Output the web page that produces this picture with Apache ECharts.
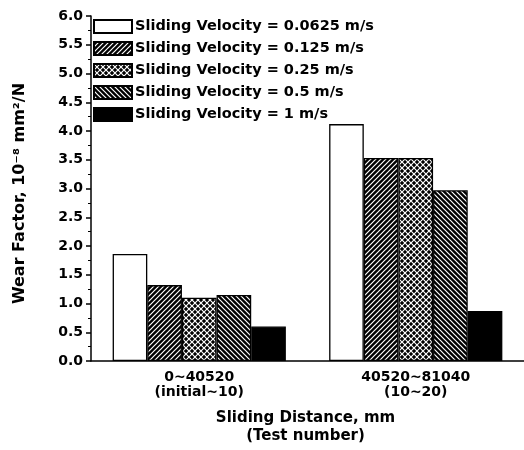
<!DOCTYPE html>
<html lang="en">
<head>
    <meta charset="UTF-8">
    <title>Wear Factor vs Sliding Distance</title>
    <script src="https://cdn.jsdelivr.net/npm/echarts@6.0.0/dist/echarts.min.js"></script>
    <style>
        body { margin: 0; background: #fff; }
    </style>
</head>
<body>
    <div id="main" style="width: 524px; height: 450px;"></div>
    <script type="text/javascript">
    // data
    const categories = ['0~40520\n(initial~10)', '40520~81040\n(10~20)'];
    const velocities = ['0.0625', '0.125', '0.25', '0.5', '1'];
    const v00625 = [1.86, 4.12];
    const v0125 = [1.32, 3.53];
    const v025 = [1.10, 3.53];
    const v05 = [1.15, 2.97];
    const v1 = [0.60, 0.87];
    const yTicks = [0, 6, 0.5];

    const FONT = '"DejaVu Sans", sans-serif';

    // small canvas tiles for the hatch fills
    function tile(size, draw) {
        const c = document.createElement('canvas');
        c.width = size; c.height = size;
        const ctx = c.getContext('2d');
        draw(ctx, size);
        return { image: c, repeat: 'repeat' };
    }

    const hatchFwd = tile(5, (ctx, s) => {
        ctx.fillStyle = '#000';
        ctx.fillRect(0, 0, s, s);
        ctx.strokeStyle = '#fff';
        ctx.lineWidth = 1.2;
        ctx.beginPath();
        ctx.moveTo(-1, s + 1); ctx.lineTo(s + 1, -1);
        ctx.moveTo(-1, 1); ctx.lineTo(1, -1);
        ctx.moveTo(s - 1, s + 1); ctx.lineTo(s + 1, s - 1);
        ctx.stroke();
    });

    const hatchBack = tile(5, (ctx, s) => {
        ctx.fillStyle = '#000';
        ctx.fillRect(0, 0, s, s);
        ctx.strokeStyle = '#fff';
        ctx.lineWidth = 1.2;
        ctx.beginPath();
        ctx.moveTo(-1, -1); ctx.lineTo(s + 1, s + 1);
        ctx.moveTo(s - 1, -1); ctx.lineTo(s + 1, 1);
        ctx.moveTo(-1, s - 1); ctx.lineTo(1, s + 1);
        ctx.stroke();
    });

    // black diamonds inside a white diagonal mesh
    const crossHatch = tile(6, (ctx, s) => {
        ctx.fillStyle = '#000';
        ctx.fillRect(0, 0, s, s);
        ctx.strokeStyle = '#fff';
        ctx.lineWidth = 1.2;
        ctx.beginPath();
        ctx.moveTo(-1, -1); ctx.lineTo(s + 1, s + 1);
        ctx.moveTo(-1, s + 1); ctx.lineTo(s + 1, -1);
        ctx.stroke();
    });

    const fills = ['#fff', hatchFwd, crossHatch, hatchBack, '#000'];
    const values = [v00625, v0125, v025, v05, v1];

    const chart = echarts.init(document.getElementById('main'));

    const series = velocities.map((v, i) => ({
        name: 'Sliding Velocity = ' + v + ' m/s',
        type: 'bar',
        data: values[i],
        barGap: 0,
        barCategoryGap: '20%',
        itemStyle: {
            color: fills[i],
            borderColor: '#000',
            borderWidth: 1.3
        },
        emphasis: { disabled: true }
    }));

    chart.setOption({
        animation: false,
        grid: { left: 91, right: -3, top: 16, bottom: 88 },
        legend: {
            orient: 'vertical',
            left: 93,
            top: 19,
            padding: 0,
            itemWidth: 38,
            itemHeight: 13,
            itemGap: 7,
            icon: 'rect',
            textStyle: { fontFamily: FONT, fontWeight: 'bold', fontSize: 14.5, color: '#000', padding: [0, 0, 0, -2] },
            data: series.map(s => s.name)
        },
        xAxis: {
            type: 'category',
            data: categories,
            name: 'Sliding Distance, mm\n(Test number)',
            nameLocation: 'middle',
            nameGap: 48,
            nameTextStyle: { fontFamily: FONT, fontWeight: 'bold', fontSize: 15, color: '#000', lineHeight: 18, padding: [0, 0, 0, -4] },
            axisLine: { lineStyle: { color: '#000', width: 1.5 } },
            axisTick: { alignWithLabel: true, length: 5, lineStyle: { color: '#000', width: 1.5 } },
            axisLabel: { fontFamily: FONT, fontWeight: 'bold', fontSize: 14, color: '#000', lineHeight: 15, margin: 9 },
            splitLine: { show: false }
        },
        yAxis: {
            type: 'value',
            min: yTicks[0],
            max: yTicks[1],
            interval: yTicks[2],
            name: 'Wear Factor, 10\u207B\u2078 mm\u00B2/N',
            nameLocation: 'middle',
            nameGap: 63,
            nameTextStyle: { fontFamily: FONT, fontWeight: 'bold', fontSize: 16, color: '#000', padding: [0, 0, 0, -10] },
            axisLine: { show: true, lineStyle: { color: '#000', width: 1.5 } },
            axisTick: { show: true, length: 5, lineStyle: { color: '#000', width: 1.5 } },
            minorTick: { show: true, splitNumber: 2, length: 3, lineStyle: { color: '#000', width: 1 } },
            axisLabel: {
                fontFamily: FONT, fontWeight: 'bold', fontSize: 14, color: '#000', margin: 8,
                formatter: v => v.toFixed(1)
            },
            splitLine: { show: false }
        },
        series: series
    });
    </script>
</body>
</html>
